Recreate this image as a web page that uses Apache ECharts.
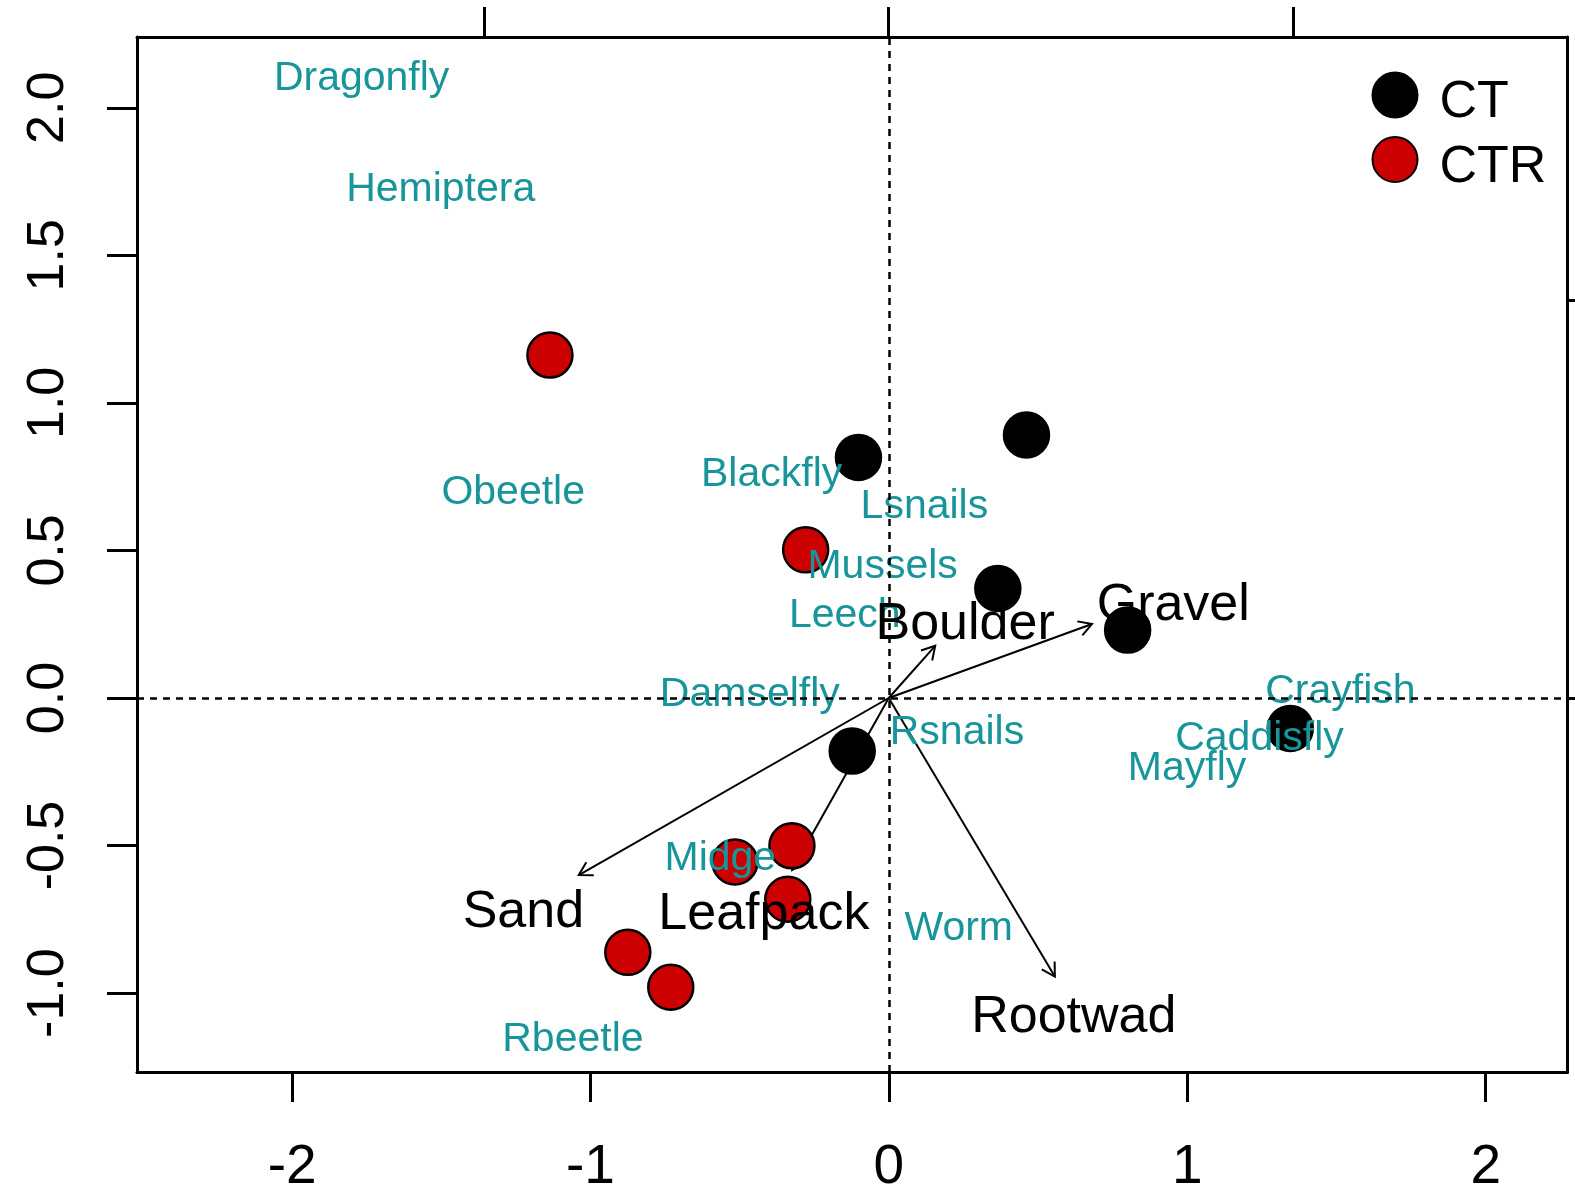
<!DOCTYPE html>
<html>
<head>
<meta charset="utf-8">
<title>RDA biplot</title>
<script src="https://cdn.jsdelivr.net/npm/echarts@6/dist/echarts.min.js"></script>
<style>
  html, body { margin: 0; padding: 0; background: #ffffff; }
  #chart { width: 1575px; height: 1189px; }
</style>
</head>
<body>
<div id="chart"></div>
<script>
// Site scores on RDA axes 1 and 2, by treatment group
const ctSites = [
  [-0.102, 0.815], [0.461, 0.891], [0.365, 0.371],
  [0.800, 0.230], [-0.123, -0.180], [1.345, -0.103]
];
const ctrSites = [
  [-1.136, 1.162], [-0.279, 0.502], [-0.516, -0.556], [-0.325, -0.501],
  [-0.339, -0.682], [-0.875, -0.862], [-0.731, -0.980]
];

// Species scores (taxa)
const speciesNames = [
  'Dragonfly', 'Hemiptera', 'Obeetle', 'Blackfly', 'Lsnails', 'Mussels', 'Leech',
  'Damselfly', 'Rsnails', 'Crayfish', 'Caddisfly', 'Mayfly', 'Midge', 'Worm', 'Rbeetle'
];
const speciesScores = [
  [-1.767, 2.115], [-1.502, 1.737], [-1.259, 0.712], [-0.393, 0.773], [0.119, 0.665],
  [-0.021, 0.461], [-0.148, 0.294], [-0.466, 0.025], [0.228, -0.103], [1.513, 0.038],
  [1.242, -0.122], [0.999, -0.223], [-0.565, -0.528], [0.234, -0.765], [-1.059, -1.142]
];

// Habitat variables: biplot arrow tips and label anchors (secondary axes)
const envNames = ['Boulder', 'Gravel', 'Sand', 'Leafpack', 'Rootwad'];
const envArrows = [
  [0.115, 0.131], [0.503, 0.186], [-0.767, -0.445], [-0.239, -0.432], [0.411, -0.700]
];
const envLabelAt = [
  [0.189, 0.195], [0.704, 0.243], [-0.904, -0.528], [-0.309, -0.534], [0.458, -0.791]
];

// Tick values
const xTicks = [-2, -1, 0, 1, 2];
const yTicks = [-1, -0.5, 0, 0.5, 1, 1.5, 2];
const topTicks = [-1, 0, 1];
const rightTicks = [0, 1];

const FONT = "'Liberation Sans', Arial, sans-serif";
const TEAL = '#17959a';
const TEXT_DY = 4.5; // canvas 'middle' sits a little above the glyph centre
const frame = { show: true, onZero: false, lineStyle: { color: '#000', width: 3 } };
const tick = (vals) => ({ show: true, length: 30, customValues: vals, lineStyle: { color: '#000', width: 3 } });
const legendItem = (name, top) => ({
  data: [name],
  orient: 'vertical',
  left: 1371.5,
  top: top,
  padding: 0,
  itemWidth: 45,
  itemHeight: 45,
  selectedMode: false,
  icon: 'circle',
  formatter: '{t|{name}}',
  textStyle: {
    rich: {
      t: { fontSize: 52, fontFamily: FONT, color: '#000', padding: [16, 0, 0, 17] }
    }
  }
});

const chart = echarts.init(document.getElementById('chart'), null, { renderer: 'canvas' });

chart.setOption({
  animation: false,
  backgroundColor: '#ffffff',
  grid: {
    left: 137, top: 37, width: 1430.5, height: 1035,
    containLabel: false, outerBoundsMode: 'none'
  },
  legend: [legendItem('CT', 71.5), legendItem('CTR', 136)],
  xAxis: [
    {
      type: 'value', position: 'bottom', min: -2.5198, max: 2.2741,
      axisLine: frame, axisTick: tick(xTicks), splitLine: { show: false },
      axisLabel: {
        customValues: xTicks, margin: 68, fontSize: 55, fontFamily: FONT, color: '#000',
        formatter: (v) => String(v)
      }
    },
    {
      type: 'value', position: 'top', min: -1.8601, max: 1.6795,
      axisLine: frame, axisTick: tick(topTicks), splitLine: { show: false },
      axisLabel: { show: false }
    }
  ],
  yAxis: [
    {
      type: 'value', position: 'left', min: -1.2674, max: 2.2399,
      axisLine: frame, axisTick: tick(yTicks), splitLine: { show: false },
      axisLabel: {
        customValues: yTicks, rotate: 90, margin: 62, fontSize: 52, fontFamily: FONT, color: '#000',
        formatter: (v) => v.toFixed(1)
      }
    },
    {
      type: 'value', position: 'right', min: -0.9397, max: 1.6608,
      axisLine: frame, axisTick: tick(rightTicks), splitLine: { show: false },
      axisLabel: { show: false }
    }
  ],
  series: [
    {
      // dotted reference lines through the origin
      type: 'scatter', name: 'origin', data: [], z: 1, silent: true,
      markLine: {
        silent: true, symbol: 'none', label: { show: false },
        lineStyle: { color: '#000', width: 2.5, type: [7, 6] },
        data: [{ xAxis: 0 }, { yAxis: 0 }]
      }
    },
    {
      // habitat biplot arrows
      type: 'custom', name: 'habitat', xAxisIndex: 1, yAxisIndex: 1, z: 2, silent: true,
      data: envArrows,
      renderItem: function (params, api) {
        const o = api.coord([0, 0]);
        const t = api.coord([api.value(0), api.value(1)]);
        const ang = Math.atan2(t[1] - o[1], t[0] - o[0]);
        const L = 15, a = Math.PI / 6;
        const p1 = [t[0] - L * Math.cos(ang - a), t[1] - L * Math.sin(ang - a)];
        const p2 = [t[0] - L * Math.cos(ang + a), t[1] - L * Math.sin(ang + a)];
        return {
          type: 'group',
          children: [
            { type: 'line', shape: { x1: o[0], y1: o[1], x2: t[0], y2: t[1] },
              style: { stroke: '#000', lineWidth: 2 } },
            { type: 'polyline', shape: { points: [p1, t, p2] },
              style: { stroke: '#000', lineWidth: 2, fill: null } }
          ]
        };
      }
    },
    {
      type: 'scatter', name: 'CT', data: ctSites, z: 3, symbol: 'circle', symbolSize: 45,
      itemStyle: { color: '#000000', borderColor: '#000000', borderWidth: 2.5, opacity: 1 }
    },
    {
      type: 'scatter', name: 'CTR', data: ctrSites, z: 3, symbol: 'circle', symbolSize: 45,
      itemStyle: { color: '#cc0000', borderColor: '#000000', borderWidth: 2.5, opacity: 1 }
    },
    {
      // taxa names at their species scores
      type: 'custom', name: 'species', z: 4, silent: true,
      data: speciesScores,
      renderItem: function (params, api) {
        const p = api.coord([api.value(0), api.value(1)]);
        return {
          type: 'text', x: p[0], y: p[1] + TEXT_DY,
          style: {
            text: speciesNames[params.dataIndex], fill: TEAL,
            fontSize: 41, fontFamily: FONT, align: 'center', verticalAlign: 'middle'
          }
        };
      }
    },
    {
      // habitat variable names
      type: 'custom', name: 'habitatLabels', xAxisIndex: 1, yAxisIndex: 1, z: 5, silent: true,
      data: envLabelAt,
      renderItem: function (params, api) {
        const p = api.coord([api.value(0), api.value(1)]);
        return {
          type: 'text', x: p[0], y: p[1] + TEXT_DY,
          style: {
            text: envNames[params.dataIndex], fill: '#000',
            fontSize: 52, fontFamily: FONT, align: 'center', verticalAlign: 'middle'
          }
        };
      }
    }
  ]
});
</script>
</body>
</html>
